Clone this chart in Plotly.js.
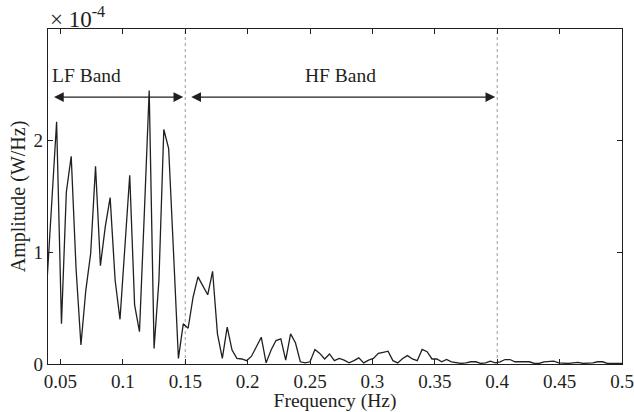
<!DOCTYPE html>
<html>
<head>
<meta charset="utf-8">
<script src="https://cdn.plot.ly/plotly-3.0.1.min.js"></script>
<style>html,body{margin:0;padding:0;background:#fff;}#chart{width:634px;height:412px;}</style>
</head>
<body>
<div id="chart"></div>
<script>
// Frequency bins (Hz)
const frequency = [
  0.0391,0.0430,0.0469,0.0508,0.0547,0.0586,0.0625,0.0664,0.0703,0.0742,
  0.0781,0.0820,0.0859,0.0898,0.0938,0.0977,0.1016,0.1055,0.1094,0.1133,
  0.1172,0.1211,0.1250,0.1289,0.1328,0.1367,0.1406,0.1445,0.1484,0.1523,
  0.1563,0.1602,0.1641,0.1680,0.1719,0.1758,0.1797,0.1836,0.1875,0.1914,
  0.1953,0.1992,0.2031,0.2070,0.2109,0.2148,0.2188,0.2227,0.2266,0.2305,
  0.2344,0.2383,0.2422,0.2461,0.2500,0.2539,0.2578,0.2617,0.2656,0.2695,
  0.2734,0.2773,0.2813,0.2852,0.2891,0.2930,0.2969,0.3008,0.3047,0.3086,
  0.3125,0.3164,0.3203,0.3242,0.3281,0.3320,0.3359,0.3398,0.3438,0.3477,
  0.3516,0.3555,0.3594,0.3633,0.3672,0.3711,0.3750,0.3789,0.3828,0.3867,
  0.3906,0.3945,0.3984,0.4023,0.4063,0.4102,0.4141,0.4180,0.4219,0.4258,
  0.4297,0.4336,0.4375,0.4414,0.4453,0.4492,0.4531,0.4570,0.4609,0.4648,
  0.4688,0.4727,0.4766,0.4805,0.4844,0.4883,0.4922,0.4961,0.5000
];
// Amplitude in units of 1e-4 W/Hz
const amplitudeE4 = [
  0.72,1.45,2.17,0.36,1.54,1.86,0.85,0.17,0.66,0.99,
  1.77,0.88,1.23,1.49,0.75,0.40,1.05,1.69,0.53,0.29,
  1.35,2.45,0.14,0.75,2.10,1.93,1.00,0.05,0.36,0.32,
  0.60,0.78,0.70,0.62,0.83,0.27,0.05,0.33,0.125,0.05,
  0.045,0.03,0.07,0.155,0.24,0.01,0.125,0.21,0.225,0.035,
  0.27,0.19,0.02,0.01,0.02,0.13,0.095,0.045,0.09,0.03,
  0.05,0.035,0.01,0.03,0.055,0.01,0.035,0.05,0.095,0.105,
  0.115,0.03,0.01,0.05,0.075,0.045,0.03,0.13,0.11,0.045,
  0.045,0.02,0.04,0.02,0.01,0.005,0.01,0.02,0.02,0.005,
  0.01,0.025,0.01,0.02,0.04,0.04,0.02,0.02,0.025,0.02,
  0.005,0.005,0.02,0.02,0.025,0.01,0.005,0.005,0.01,0.015,
  0.005,0.005,0.01,0.02,0.02,0.005,0.005,0.005,0.005
];
const xTicks = [0.05,0.1,0.15,0.2,0.25,0.3,0.35,0.4,0.45,0.5];
const xTickText = ['0.05','0.1','0.15','0.2','0.25','0.3','0.35','0.4','0.45','0.5'];
const yTicks = [0,1,2];
const yTickText = ['0','1','2'];
const bandEdges = [0.04, 0.15, 0.4];
const bandNames = ['LF Band','HF Band'];
const bandLabelX = [0.0712, 0.2745];
const arrowLevel = 2.39;
const labelLevel = 2.58;

const font = 'Liberation Serif, Times New Roman, serif';
const ink = '#231f20';

const trace = {
  x: frequency, y: amplitudeE4, type: 'scatter', mode: 'lines',
  line: {color: ink, width: 1.3}, hoverinfo: 'skip', showlegend: false
};

const shapes = [bandEdges[1], bandEdges[2]].map(v => ({
  type: 'line', xref: 'x', yref: 'y', x0: v, x1: v, y0: 0, y1: 3,
  line: {color: '#9a9a9a', width: 1, dash: 'dot'}, layer: 'below'
}));

const annotations = [];
for (let i = 0; i < 2; i++) {
  annotations.push({
    xref: 'x', yref: 'y', axref: 'x', ayref: 'y',
    x: bandEdges[i+1], y: arrowLevel, ax: bandEdges[i], ay: arrowLevel,
    text: ' ', showarrow: true, arrowside: 'end+start',
    arrowhead: 2, startarrowhead: 2, arrowsize: 1.5, startarrowsize: 1.5,
    arrowwidth: 1.3, arrowcolor: ink, standoff: 2, startstandoff: 2
  });
  annotations.push({
    xref: 'x', yref: 'y', x: bandLabelX[i],
    y: labelLevel, text: bandNames[i], showarrow: false,
    font: {family: font, size: 19.5, color: ink}, xanchor: 'center', yanchor: 'middle'
  });
}
annotations.push({
  xref: 'paper', yref: 'paper', x: 0, y: 1, xanchor: 'left', yanchor: 'bottom',
  text: '× 10<sup>-4</sup>', showarrow: false, yshift: -5, xshift: 0,
  font: {family: font, size: 23, color: ink}
});

const layout = {
  width: 634, height: 412,
  margin: {l: 48, r: 12, t: 29, b: 48, pad: 0},
  paper_bgcolor: '#fff', plot_bgcolor: '#fff',
  font: {family: font, size: 18, color: ink},
  xaxis: {
    range: [0.04, 0.5], tickvals: xTicks, ticktext: xTickText,
    ticks: 'inside', ticklen: 5, tickcolor: ink, tickwidth: 1,
    showline: true, linecolor: ink, linewidth: 1.2, mirror: 'ticks',
    showgrid: false, zeroline: false,
    tickfont: {family: font, size: 19, color: ink},
    title: {text: 'Frequency (Hz)', font: {family: font, size: 19.5, color: ink}, standoff: 0},
    automargin: false
  },
  yaxis: {
    range: [0, 3], tickvals: yTicks, ticktext: yTickText,
    ticks: 'inside', ticklen: 5, tickcolor: ink, tickwidth: 1,
    showline: true, linecolor: ink, linewidth: 1.2, mirror: 'ticks',
    showgrid: false, zeroline: false,
    tickfont: {family: font, size: 19, color: ink},
    title: {text: 'Amplitude (W/Hz)', font: {family: font, size: 20, color: ink}, standoff: 2},
    automargin: false
  },
  shapes: shapes,
  annotations: annotations
};

Plotly.newPlot('chart', [trace], layout, {staticPlot: true, displayModeBar: false});
</script>
</body>
</html>
